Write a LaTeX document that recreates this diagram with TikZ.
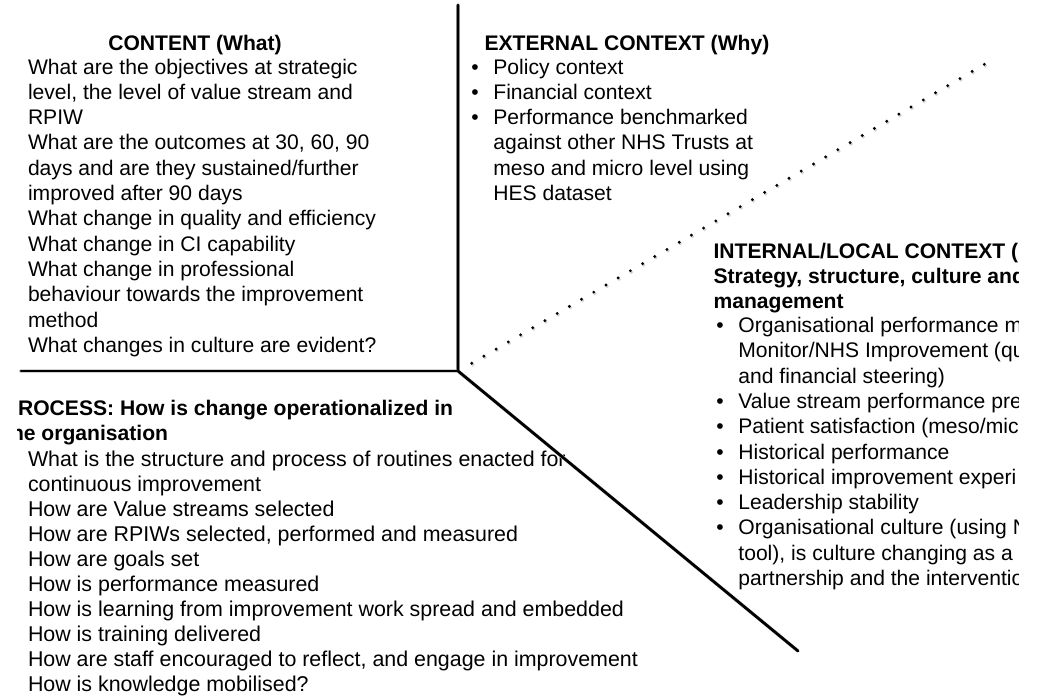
\documentclass[tikz,border=0pt]{standalone}
\usepackage{fontspec}
\setmainfont{Liberation Sans}
\usetikzlibrary{calc}
\newcommand\itemmark{\makebox[22pt][l]{\textbullet}}
\newcommand\itemgap{\hspace*{22pt}}
\begin{document}
\begin{tikzpicture}[x=1pt,y=-1pt,
  txt/.style={inner sep=0pt, outer sep=0pt, align=left, anchor=base west,
    font=\fontsize{21.1}{25.3}\selectfont},
  hd/.style={txt, font=\fontsize{21.1}{24.6}\selectfont\bfseries},
  divider/.style={line width=2.8pt, line cap=round},
  divshadow/.style={line width=3.6pt, black!18, line cap=round, shift={(1.3,1.7)}},
  dot/.style={fill=black},
  dotshadow/.style={fill=black!18}
]
\useasboundingbox[fill=white] (0,0) rectangle (1043,696);

% quadrant dividers
\coordinate (hub) at (458,371);
\coordinate (top) at (458,5);
\coordinate (left) at (21,371);
\coordinate (low) at (798,651);
\coordinate (dotA) at (471.7,363.3);
\coordinate (dotB) at (984.3,64.3);

% CONTENT (multi-line nodes are placed by the baseline of their last line)
\node[hd, anchor=base] (contentHead) at (195,50) {CONTENT (What)};
\node[txt] (contentBody) at (28,352.3) {What are the objectives at strategic\\
level, the level of value stream and\\
RPIW\\
What are the outcomes at 30, 60, 90\\
days and are they sustained/further\\
improved after 90 days\\
What change in quality and efficiency\\
What change in CI capability\\
What change in professional\\
behaviour towards the improvement\\
method\\
What changes in culture are evident?};

% EXTERNAL CONTEXT
\node[hd] (extHead) at (484.5,50) {EXTERNAL CONTEXT (Why)};
\node[txt] (extBody) at (471.4,200.5) {\itemmark Policy context\\
\itemmark Financial context\\
\itemmark Performance benchmarked\\
\itemgap against other NHS Trusts at\\
\itemgap meso and micro level using\\
\itemgap HES dataset};

% INTERNAL/LOCAL CONTEXT
\begin{scope}
\clip (690,225) rectangle (1018,610);
\node[hd] (intHead) at (713.5,308) {INTERNAL/LOCAL CONTEXT (\\
Strategy, structure, culture and\\
management};
\node[txt] (intBody) at (716.4,585.5) {\itemmark Organisational performance m\\
\itemgap Monitor/NHS Improvement (qu\\
\itemgap and financial steering)\\
\itemmark Value stream performance pre\\
\itemmark Patient satisfaction (meso/mic\\
\itemmark Historical performance\\
\itemmark Historical improvement experi\\
\itemmark Leadership stability\\
\itemmark Organisational culture (using N\\
\itemgap tool), is culture changing as a\\
\itemgap partnership and the interventio};
\end{scope}

% PROCESS
\begin{scope}
\clip (17,385) rectangle (700,452);
\node[hd, font=\fontsize{21.1}{25}\selectfont\bfseries] (procHead) at (4,440.5) {PROCESS: How is change operationalized in\\
the organisation};
\end{scope}
\node[txt, font=\fontsize{21.4}{25}\selectfont] (procBody) at (28,691.5) {What is the structure and process of routines enacted for\\
continuous improvement\\
How are Value streams selected\\
How are RPIWs selected, performed and measured\\
How are goals set\\
How is performance measured\\
How is learning from improvement work spread and embedded\\
How is training delivered\\
How are staff encouraged to reflect, and engage in improvement\\
How is knowledge mobilised?};

% soft shadows under the dividers
\draw[divshadow] (top) -- (hub) -- (low);
\draw[divshadow] (left) -- (hub);
\foreach \i in {0,...,42}
  \fill[dotshadow] ($(dotA)!\i/42!(dotB)+(1,1.3)$) circle (1.9);

% dividers
\draw[divider] (top) -- (hub) -- (low);
\draw[divider] (left) -- (hub);
\foreach \i in {0,...,42}
  \fill[dot] ($(dotA)!\i/42!(dotB)$) circle (1.6);
\end{tikzpicture}
\end{document}
